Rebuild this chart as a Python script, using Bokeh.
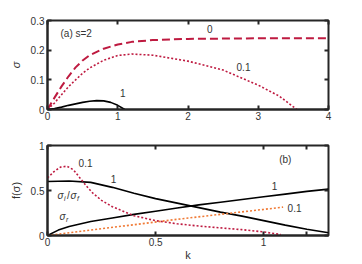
from bokeh.plotting import figure
from bokeh.models import LinearAxis, Label, Range1d, FixedTicker, CustomJSTickFormatter
from bokeh.layouts import column
from bokeh.embed import file_html
from bokeh.resources import INLINE

# ---- panel (a): growth rate sigma vs k, s=2 ----
k_s0 = [0, 0.1, 0.2, 0.3, 0.4, 0.5, 0.6, 0.8, 1.0, 1.2, 1.5, 2.0, 2.5, 3.0, 3.5, 4.0]
sig_s0 = [0, 0.04, 0.078, 0.112, 0.142, 0.165, 0.183, 0.205, 0.219, 0.228, 0.234, 0.238, 0.239, 0.24, 0.24, 0.24]

k_s01 = [0, 0.1, 0.2, 0.3, 0.4, 0.5, 0.6, 0.8, 1.0, 1.2, 1.5, 2.0, 2.5, 3.0, 3.3, 3.55]
sig_s01 = [0, 0.022, 0.05, 0.077, 0.1, 0.122, 0.14, 0.166, 0.182, 0.187, 0.183, 0.163, 0.133, 0.082, 0.045, 0.0]

k_s1 = [0, 0.1, 0.2, 0.3, 0.4, 0.5, 0.6, 0.7, 0.8, 0.9, 1.0, 1.1]
sig_s1 = [0, 0.003, 0.008, 0.014, 0.019, 0.024, 0.028, 0.03, 0.029, 0.024, 0.014, 0.0]

# ---- panel (b): f(sigma) vs k ----
k_ratio1 = [0, 0.1, 0.2, 0.3, 0.4, 0.5, 0.6, 0.7, 0.8, 0.9, 1.0, 1.1, 1.2, 1.3]
ratio1 = [0.6, 0.605, 0.59, 0.535, 0.47, 0.41, 0.36, 0.31, 0.26, 0.215, 0.165, 0.115, 0.07, 0.03]

k_sr1 = [0, 0.05, 0.1, 0.2, 0.3, 0.4, 0.5, 0.6, 0.7, 0.8, 0.9, 1.0, 1.1, 1.2, 1.3]
sr1 = [0, 0.06, 0.1, 0.155, 0.195, 0.235, 0.27, 0.305, 0.34, 0.37, 0.4, 0.43, 0.46, 0.49, 0.515]

k_ratio01 = [0, 0.03, 0.06, 0.09, 0.12, 0.15, 0.18, 0.21, 0.25, 0.3, 0.35, 0.4, 0.5, 0.6, 0.7, 0.8, 0.9, 1.0, 1.08]
ratio01 = [0.64, 0.71, 0.76, 0.77, 0.73, 0.64, 0.55, 0.47, 0.39, 0.32, 0.27, 0.22, 0.165, 0.13, 0.105, 0.085, 0.065, 0.04, 0.01]

k_sr01 = [0, 0.2, 0.4, 0.6, 0.8, 1.0, 1.09]
sr01 = [0, 0.06, 0.12, 0.18, 0.235, 0.29, 0.315]

xticks_a = [0, 1, 2, 3, 4]
yticks_a = [0, 0.1, 0.2, 0.3]
xticks_b = [0, 0.5, 1, 1.2]
yticks_b = [0, 0.5, 1]

CRIMSON = "#BE1A40"
ORANGE = "#F07A35"
BOX = "#262626"
TXT = "#333333"
FONT = "Liberation Sans"


def style(p, xt, yt, xlabel_over=None):
    p.outline_line_color = BOX
    p.outline_line_width = 2
    p.grid.visible = False
    p.background_fill_color = "white"
    p.border_fill_color = "white"
    for ax in p.xaxis + p.yaxis:
        ax.axis_line_color = BOX
        ax.axis_line_width = 2
        ax.major_tick_in = 4
        ax.major_tick_out = 0
        ax.major_tick_line_width = 2
        ax.major_tick_line_color = BOX
        ax.minor_tick_line_color = None
        ax.major_label_text_font = FONT
        ax.major_label_text_font_size = "10px"
        ax.major_label_text_color = TXT
        ax.axis_label_text_font = FONT
        ax.axis_label_text_font_size = "11px"
        ax.axis_label_text_color = TXT
        ax.axis_label_text_font_style = "normal"
    p.xaxis.ticker = FixedTicker(ticks=xt)
    p.yaxis.ticker = FixedTicker(ticks=yt)
    p.xaxis.major_label_standoff = 2
    p.yaxis.major_label_standoff = 3
    if xlabel_over:
        p.xaxis.major_label_overrides = xlabel_over
    # mirrored axes (ticks only, no labels)
    blank = "return ''"
    top = LinearAxis(ticker=FixedTicker(ticks=xt), formatter=CustomJSTickFormatter(code=blank),
                     major_label_text_font_size="6px",
                     major_label_standoff=0, axis_line_color=None, major_tick_in=4,
                     major_tick_out=0, major_tick_line_width=2, major_tick_line_color=BOX,
                     minor_tick_line_color=None)
    right = LinearAxis(ticker=FixedTicker(ticks=yt), formatter=CustomJSTickFormatter(code=blank),
                       major_label_text_font_size="6px",
                       major_label_standoff=0, axis_line_color=None, major_tick_in=4,
                       major_tick_out=0, major_tick_line_width=2, major_tick_line_color=BOX,
                       minor_tick_line_color=None)
    p.add_layout(top, "above")
    p.add_layout(right, "right")


def lab(p, x, y, t, size="10px", align="center", italic=False, xo=0, yo=0,
        baseline="middle"):
    p.add_layout(Label(x=x, y=y, text=t, text_font=FONT, text_font_size=size,
                       text_color=TXT, text_align=align, text_baseline=baseline,
                       x_offset=xo, y_offset=yo,
                       text_font_style="italic" if italic else "normal"))


# ---------------- figure (a) ----------------
pa = figure(width=362, height=135, output_backend="svg", toolbar_location=None,
            x_range=Range1d(0, 4), y_range=Range1d(0, 0.3),
            min_border_left=47, min_border_right=34, min_border_top=20, min_border_bottom=26)
pa.line(k_s0, sig_s0, line_color=CRIMSON, line_width=2, line_dash="8 4")
pa.line(k_s01, sig_s01, line_color=CRIMSON, line_width=1.6, line_dash="2 2")
pa.line(k_s1, sig_s1, line_color="black", line_width=1.6)
style(pa, xticks_a, yticks_a)
pa.left[0].axis_label = "σ"
pa.left[0].axis_label_standoff = 6
pa.left[0].axis_label_text_font_style = "italic"
lab(pa, 0.185, 0.256, "(a) s=2", align="left")
lab(pa, 2.31, 0.27, "0")
lab(pa, 2.79, 0.143, "0.1")
lab(pa, 1.07, 0.057, "1")

# ---------------- figure (b) ----------------
pb = figure(width=362, height=129, output_backend="svg", toolbar_location=None,
            x_range=Range1d(0, 1.3), y_range=Range1d(0, 1),
            min_border_left=47, min_border_right=34, min_border_top=10, min_border_bottom=29)
pb.line(k_ratio1, ratio1, line_color="black", line_width=1.6)
pb.line(k_sr1, sr1, line_color="black", line_width=1.6)
pb.line(k_ratio01, ratio01, line_color=CRIMSON, line_width=1.6, line_dash="2 2")
pb.line(k_sr01, sr01, line_color=ORANGE, line_width=1.6, line_dash="2 2")
style(pb, xticks_b, yticks_b, {1.2: ""})
pb.left[0].axis_label = "f(σ)"
pb.left[0].axis_label_standoff = 6
pb.below[0].axis_label = "k"
pb.below[0].axis_label_standoff = 0
lab(pb, 0.176, 0.81, "0.1")
lab(pb, 0.306, 0.63, "1")
# sigma_i / sigma_f
lab(pb, 0.046, 0.45, "σ", align="left", italic=True, baseline="alphabetic")
lab(pb, 0.046, 0.45, "i", size="7px", align="left", italic=True, xo=6.5, yo=-3, baseline="alphabetic")
lab(pb, 0.046, 0.45, "/", align="left", xo=9.5, baseline="alphabetic")
lab(pb, 0.046, 0.45, "σ", align="left", italic=True, xo=13, baseline="alphabetic")
lab(pb, 0.046, 0.45, "f", size="7px", align="left", italic=True, xo=19.5, yo=-3, baseline="alphabetic")
# sigma_r
lab(pb, 0.056, 0.21, "σ", align="left", italic=True, baseline="alphabetic")
lab(pb, 0.056, 0.21, "r", size="7px", align="left", italic=True, xo=6.5, yo=-3, baseline="alphabetic")
lab(pb, 1.10, 0.84, "(b)")
lab(pb, 1.05, 0.555, "1")
lab(pb, 1.143, 0.31, "0.1")

layout = column(pa, pb, spacing=0)
open("out.html", "w").write(file_html(layout, INLINE))
